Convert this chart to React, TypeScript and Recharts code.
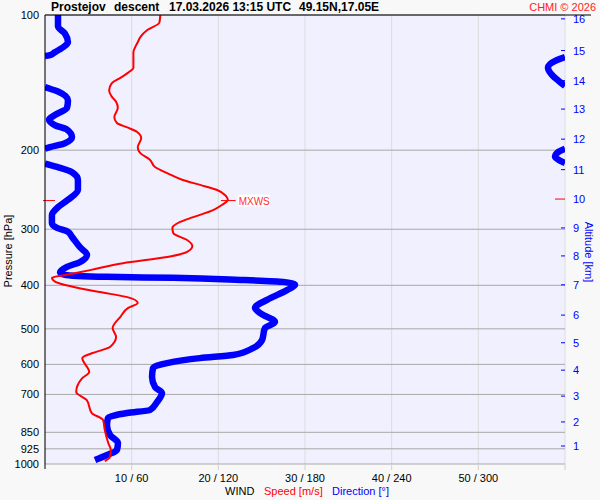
import { LineChart, Line, XAxis, YAxis, CartesianGrid, ReferenceLine } from "recharts";

const PRESSURE_TICKS = [100, 200, 300, 400, 500, 600, 700, 850, 925, 1000];
const SPEED_TICKS = [10, 20, 30, 40, 50, 60];

const ALT_KM = [1, 2, 3, 4, 5, 6, 7, 8, 9, 10, 11, 12, 13, 14, 15, 16];
const ALT_HPA = [912, 806, 706, 618, 537, 466, 399, 344, 298, 257, 221, 189, 162, 140, 120, 102];

// wind speed [m/s] vs pressure [hPa]
const SPEED_HPA = [
  100, 104, 108, 112, 115, 118, 121, 131, 134, 138, 142, 147, 152, 156, 161, 169, 174, 178, 182, 188,
  197, 203, 210, 218, 225, 233, 239, 245, 252, 258, 265, 272, 282, 289, 298, 306, 317, 327, 337, 346,
  357, 370, 379, 385, 393, 403, 414, 425, 438, 449, 470, 498, 521, 549, 566, 581, 624, 644, 691, 720,
  770, 798, 840, 898, 931, 965, 985,
];
const SPEED_MS = [
  13.3, 13.2, 11.8, 11.0, 10.7, 10.4, 10.2, 10.2, 9.7, 8.7, 7.7, 7.4, 7.7, 8.2, 8.4, 8.0, 8.3, 9.5, 10.6, 11.1,
  10.7, 11.0, 12.1, 12.7, 14.1, 15.9, 17.9, 19.8, 20.8, 21.1, 20.4, 19.4, 17.1, 15.6, 14.7, 14.8, 16.4, 17.0, 16.4, 14.1,
  9.0, 5.2, 2.5, 0.8, 1.2, 3.2, 6.3, 9.5, 10.7, 9.6, 8.7, 7.8, 8.2, 7.5, 5.5, 4.3, 5.1, 4.3, 3.6, 4.8,
  5.4, 6.7, 6.9, 7.3, 7.6, 7.5, 6.9,
];

// wind direction [deg] vs pressure [hPa] (0 and 360 where the trace wraps round north)
const DIR_HPA = [
  100, 106, 110, 115, 118, 121, 123, 123.4, 124, 126, 131, 136, 141, 143.9, 144.7, 146, 148, 155, 161, 167,
  171, 176, 180, 187, 193, 197, 198.5, 198.5, 202, 207, 211, 213.6, 214.2, 218, 224, 233, 245, 258, 268, 279,
  291, 298, 304, 312, 329, 342, 355, 364, 374, 379, 383, 385, 389, 393, 399, 410, 431, 449, 461, 483,
  498, 530, 552, 572, 581, 596, 611, 640, 674, 695, 728, 758, 770, 790, 819, 862, 898, 931, 955, 980,
];
const DIR_DEG = [
  9, 9, 13.8, 15.9, 12.5, 6.9, 2.8, 0, 360, 354.5, 348.2, 351, 356.5, 360, 0, 3.5, 9, 15.9, 15.2, 6.9,
  2.8, 6.9, 15.2, 18.7, 13.8, 3.5, 0, 360, 355.2, 353.1, 356.5, 360, 0, 8.3, 18.7, 22.8, 22.8, 15.9, 9, 4.8,
  4.8, 8.3, 15.9, 18.7, 24.2, 29.1, 24.2, 15.2, 10.4, 13.8, 42.9, 88.6, 135, 164.8, 173.1, 167.5, 153.7, 145.4, 148.8, 159.2,
  152.3, 150.2, 144, 130.2, 107.3, 84.5, 74.8, 74.1, 76.2, 81, 77.5, 72.7, 56.8, 43.6, 42.9, 45, 50.5, 49.8, 42.9, 34.6,
];

const MXWS_HPA = 259;
const MXWS_MS = 21.1;
const MXWS_KM = 10;

const speedData = SPEED_HPA.map((p, i) => ({ p, v: SPEED_MS[i] }));

// split the direction trace where it crosses north
const dirSegments: { p: number; d: number }[][] = [];
let seg: { p: number; d: number }[] = [];
DIR_HPA.forEach((p, i) => {
  const d = DIR_DEG[i];
  if (seg.length && Math.abs(d - seg[seg.length - 1].d) > 180) {
    dirSegments.push(seg);
    seg = [];
  }
  seg.push({ p, d });
});
dirSegments.push(seg);

const FONT = "'Liberation Sans', Arial, sans-serif";
const PX = 60 / 520; // speed units per pixel

const AltLabel = ({ viewBox, km }: any) => (
  <text x={viewBox.x + viewBox.width + 8} y={viewBox.y + 4} fill="#0000ff" fontSize={11}>
    {km}
  </text>
);

const MxwsLabel = ({ viewBox }: any) => {
  const x = viewBox.x + viewBox.width + 2;
  const y = viewBox.y;
  return (
    <g>
      <rect x={x} y={y - 6} width={32} height={12} fill="#ffffff" />
      <text x={x + 1} y={y + 4} fill="#ff3030" fontSize={10}>
        MXWS
      </text>
    </g>
  );
};

export default function App() {
  return (
    <div
      style={{
        position: "absolute",
        left: 0,
        top: 0,
        width: 600,
        height: 500,
        background: "#f8f8f8",
        fontFamily: FONT,
      }}
    >
      <LineChart width={600} height={500} layout="vertical" margin={{ top: 15, right: 35, bottom: 0, left: 0 }}>
        <CartesianGrid xAxisId="spd" yAxisId="p" horizontal={false} stroke="#dcdcdc" fill="#f0f0ff" />
        <CartesianGrid xAxisId="spd" yAxisId="p" vertical={false} stroke="#a8a8a8" />

        <XAxis
          xAxisId="spd"
          type="number"
          domain={[0, 60]}
          ticks={SPEED_TICKS}
          allowDataOverflow
          height={36}
          axisLine={false}
          tickLine={{ stroke: "#d0d0d0" }}
          tickSize={6}
          tickMargin={4}
          tick={{ fill: "#000", fontSize: 11 }}
          tickFormatter={(v: number) => (v === 60 ? "" : `${v} / ${v * 6}`)}
        />
        <XAxis xAxisId="dir" orientation="top" height={0} type="number" domain={[0, 360]} allowDataOverflow hide />

        <YAxis
          yAxisId="p"
          dataKey="p"
          type="number"
          scale="log"
          domain={[100, 1000]}
          ticks={PRESSURE_TICKS}
          allowDataOverflow
          width={45}
          axisLine={{ stroke: "#000" }}
          tickLine={false}
          tickSize={4}
          tickMargin={2}
          tick={{ fill: "#000", fontSize: 11 }}
          interval={0}
        />

        {dirSegments.map((s, i) => (
          <Line
            key={`dir-${i}`}
            data={s}
            dataKey="d"
            xAxisId="dir"
            yAxisId="p"
            type="monotoneY"
            stroke="#0000ff"
            strokeWidth={6.5}
            strokeLinejoin="round"
            dot={false}
            isAnimationActive={false}
          />
        ))}

        <Line
          data={speedData}
          dataKey="v"
          xAxisId="spd"
          yAxisId="p"
          type="monotoneY"
          stroke="#ff0000"
          strokeWidth={2}
          dot={false}
          isAnimationActive={false}
        />

        {ALT_KM.map((km, i) => (
          <ReferenceLine
            key={`alt-${km}`}
            xAxisId="spd"
            yAxisId="p"
            segment={[
              { x: 60 - (km === MXWS_KM ? 10 : 4) * PX, y: ALT_HPA[i] },
              { x: 60, y: ALT_HPA[i] },
            ]}
            stroke={km === MXWS_KM ? "#ff0000" : "#0000ff"}
            ifOverflow="visible"
            label={<AltLabel km={km} />}
          />
        ))}

        <ReferenceLine
          xAxisId="spd"
          yAxisId="p"
          segment={[
            { x: -2 * PX, y: MXWS_HPA },
            { x: 10 * PX, y: MXWS_HPA },
          ]}
          stroke="#ff0000"
          ifOverflow="visible"
        />
        <ReferenceLine
          xAxisId="spd"
          yAxisId="p"
          segment={[
            { x: MXWS_MS - 0.8, y: MXWS_HPA },
            { x: MXWS_MS + 0.9, y: MXWS_HPA },
          ]}
          stroke="#ff0000"
          ifOverflow="visible"
          label={<MxwsLabel />}
        />
      </LineChart>

      <svg
        width={600}
        height={500}
        style={{ position: "absolute", left: 0, top: 0, pointerEvents: "none" }}
        fontFamily={FONT}
      >
        <line x1={45} x2={591} y1={15} y2={15} stroke="#000" />
        <line x1={45} x2={45} y1={464} y2={469} stroke="#000" />
        <g fontWeight="bold" fontSize={12} fill="#000">
          <text x={51} y={11}>Prostejov</text>
          <text x={114} y={11}>descent</text>
          <text x={169} y={11}>17.03.2026 13:15 UTC</text>
          <text x={299} y={11}>49.15N,17.05E</text>
        </g>
        <text x={596} y={11} textAnchor="end" fill="#ff2020" fontSize={11}>
          CHMI © 2026
        </text>
        <text transform="translate(12,251) rotate(-90)" textAnchor="middle" fontSize={11} fill="#000">
          Pressure [hPa]
        </text>
        <text transform="translate(585,252) rotate(90)" textAnchor="middle" fontSize={11} fill="#0000ff">
          Altitude [km]
        </text>
        <text x={225} y={495} fontSize={11} fill="#000">
          WIND
        </text>
        <text x={264} y={495} fontSize={11} fill="#ff0000">
          Speed [m/s]
        </text>
        <text x={332} y={495} fontSize={11} fill="#0000ff">
          Direction [°]
        </text>
      </svg>
    </div>
  );
}
